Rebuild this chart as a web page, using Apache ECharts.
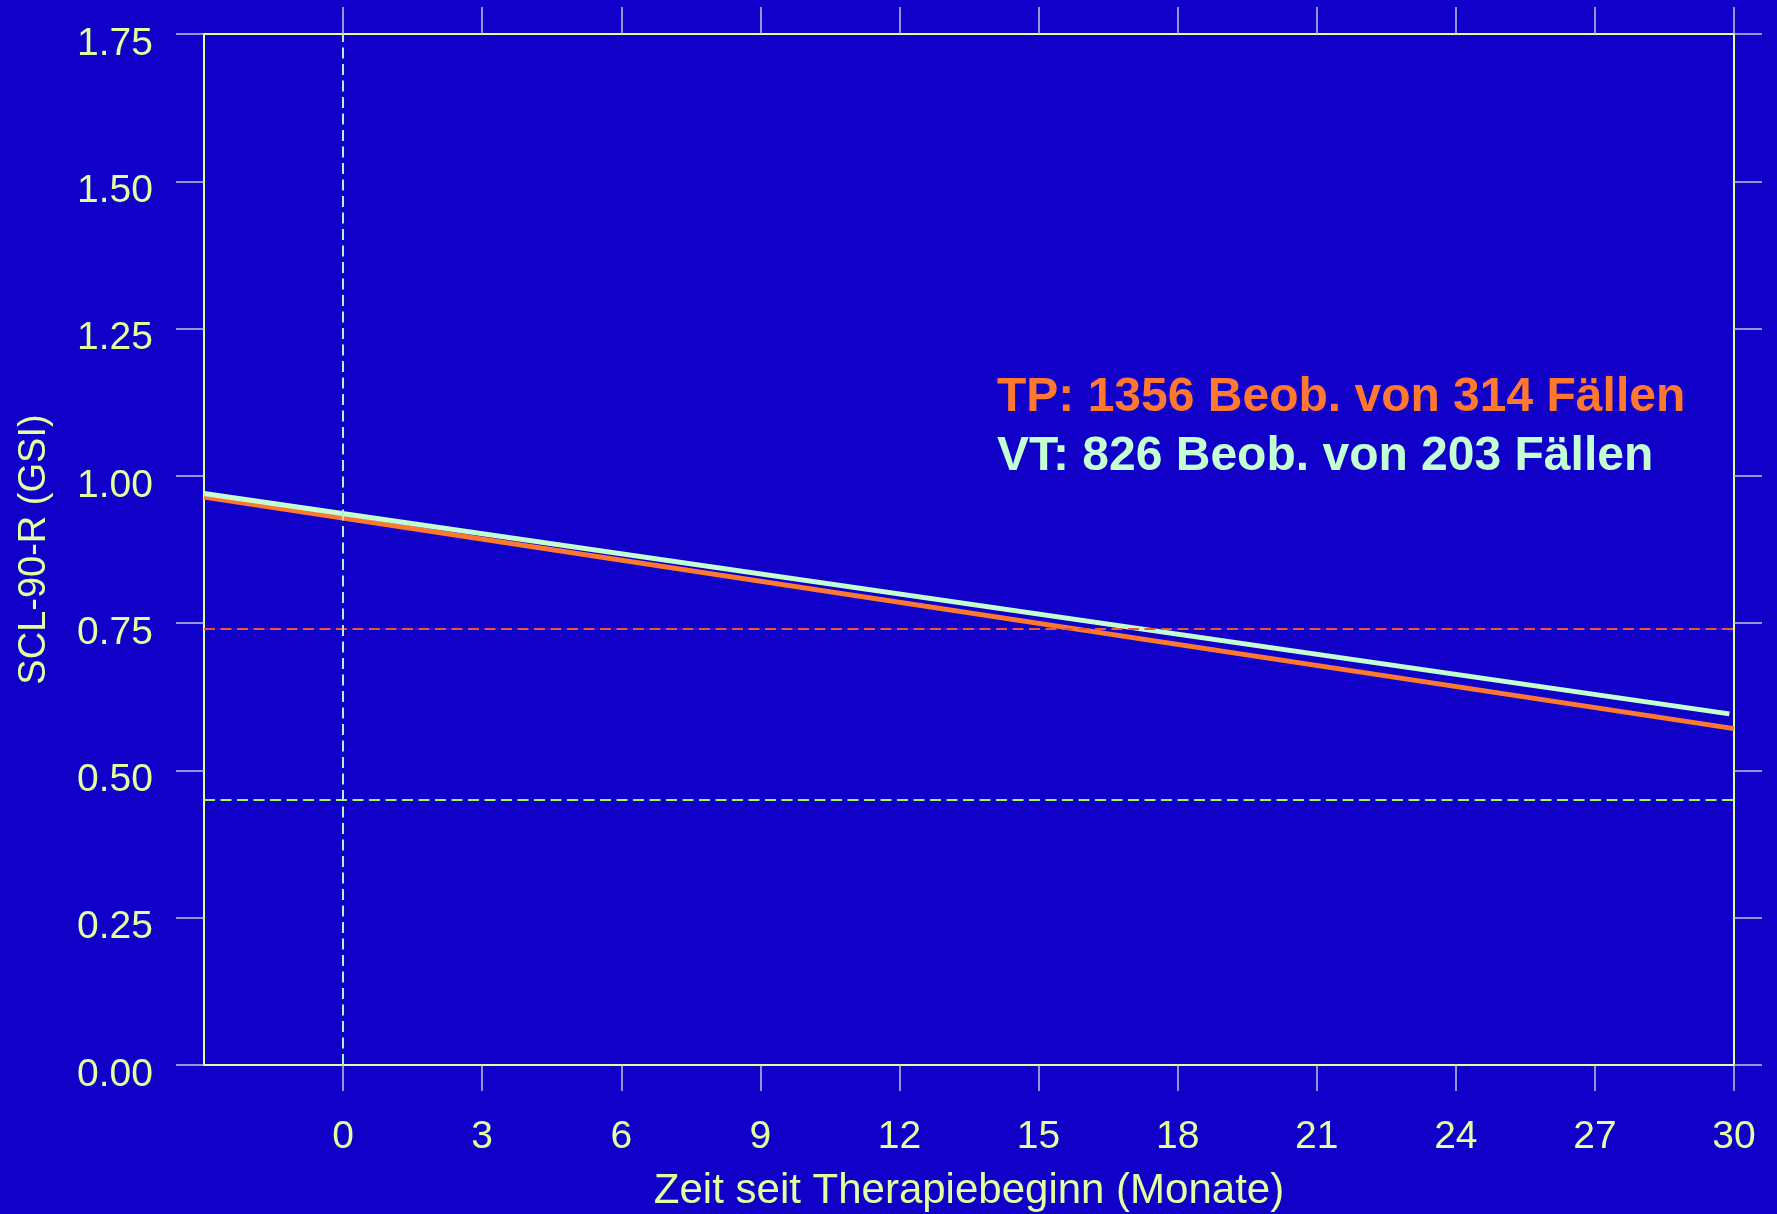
<!DOCTYPE html>
<html>
<head>
<meta charset="utf-8">
<title>SCL-90-R (GSI)</title>
<script src="https://cdn.jsdelivr.net/npm/echarts@6/dist/echarts.min.js"></script>
<style>
  html, body { margin: 0; padding: 0; background: #1000c8; }
  #chart { width: 1777px; height: 1214px; }
</style>
</head>
<body>
<div id="chart"></div>
<script>
// Werte
const xTicks = [0, 3, 6, 9, 12, 15, 18, 21, 24, 27, 30];
const yTicks = [0, 0.25, 0.5, 0.75, 1, 1.25, 1.5, 1.75];
const tpLine = [[-3, 0.964], [30, 0.571]];
const vtLine = [[-3, 0.970], [29.9, 0.596]];
const refLevels = [0.743, 0.449];   // gestrichelte Linien
const startMonth = 0;                // Therapiebeginn
const legendLines = ['TP: 1356 Beob. von 314 Fällen', 'VT: 826 Beob. von 203 Fällen'];

const textColor = '#e4ffa0';
const tickColor = '#c0c4dc';
const font = '"Liberation Sans", Arial, sans-serif';

const chart = echarts.init(document.getElementById('chart'));

const hiddenLabel = { show: false };
const axisLine = { show: true, onZero: false, lineStyle: { color: textColor, width: 2 } };

chart.setOption({
  backgroundColor: '#1000c8',
  animation: false,
  grid: { left: 204, top: 34, right: 43, bottom: 149, outerBoundsMode: 'none' },
  xAxis: [{
    type: 'value', min: -3, max: 30,
    name: 'Zeit seit Therapiebeginn (Monate)',
    nameLocation: 'middle', nameGap: 105,
    nameTextStyle: { color: textColor, fontSize: 42, fontFamily: font },
    axisLine: axisLine,
    axisTick: { show: true, inside: false, length: 26, customValues: xTicks, lineStyle: { color: tickColor, width: 1.5 } },
    axisLabel: { customValues: xTicks, margin: 53, color: textColor, fontSize: 39, fontFamily: font },
    splitLine: { show: false }
  }, {
    type: 'value', min: -3, max: 30, position: 'top',
    axisLine: axisLine,
    axisTick: { show: true, length: 27, customValues: xTicks, lineStyle: { color: tickColor, width: 1.5 } },
    axisLabel: hiddenLabel,
    splitLine: { show: false }
  }],
  yAxis: [{
    type: 'value', min: 0, max: 1.75, interval: 0.25,
    name: 'SCL-90-R (GSI)',
    nameLocation: 'middle', nameGap: 150, nameRotate: 90,
    nameTextStyle: { color: textColor, fontSize: 38, fontFamily: font },
    axisLine: axisLine,
    axisTick: { show: true, length: 28, lineStyle: { color: tickColor, width: 1.5 } },
    axisLabel: {
      margin: 51, color: textColor, fontSize: 39, fontFamily: font,
      verticalAlign: 'top', lineHeight: 20,
      formatter: v => v.toFixed(2)
    },
    splitLine: { show: false }
  }, {
    type: 'value', min: 0, max: 1.75, interval: 0.25, position: 'right',
    axisLine: axisLine,
    axisTick: { show: true, length: 28, lineStyle: { color: tickColor, width: 1.5 } },
    axisLabel: hiddenLabel,
    splitLine: { show: false }
  }],
  graphic: legendLines.map((t, i) => ({
    type: 'text',
    left: 997,
    top: 374 + i * 59,
    style: {
      text: t,
      fill: i === 0 ? '#ff7830' : '#c4ffd4',
      font: 'bold 48px ' + font
    }
  })),
  series: [{
    name: 'ref',
    type: 'line',
    data: [],
    z: 1,
    markLine: {
      silent: true,
      symbol: 'none',
      label: { show: false },
      data: [
        { yAxis: refLevels[0], lineStyle: { color: '#e85834', type: [11, 5.5], width: 2 } },
        { yAxis: refLevels[1], lineStyle: { color: '#a4f850', type: [11, 5.5], width: 2 } },
        { xAxis: startMonth, lineStyle: { color: '#b4f0d0', type: [11, 5.5], width: 2 } }
      ]
    }
  }, {
    name: 'TP',
    type: 'line',
    data: tpLine,
    symbol: 'none',
    z: 3,
    lineStyle: { color: '#ff7830', width: 5 }
  }, {
    name: 'VT',
    type: 'line',
    data: vtLine,
    symbol: 'none',
    z: 4,
    lineStyle: { color: '#c4ffd4', width: 5 }
  }]
});
</script>
</body>
</html>
